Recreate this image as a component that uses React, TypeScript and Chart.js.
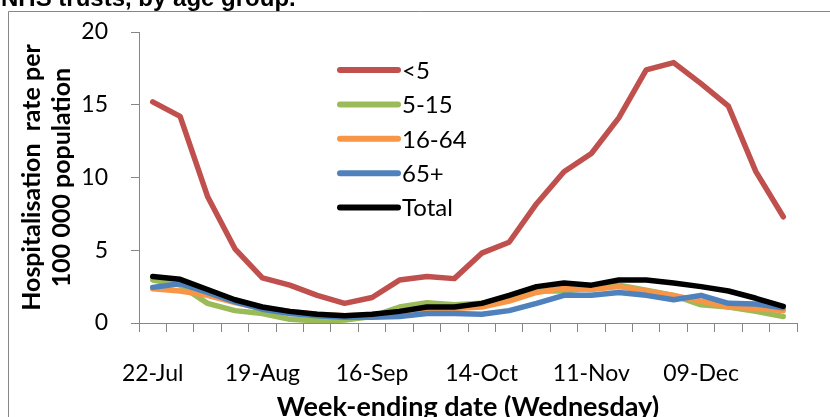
import React, { useEffect, useRef } from "react";
import { Chart, registerables } from "chart.js";

Chart.register(...registerables);

const weeks = [
  "22-Jul", "29-Jul", "05-Aug", "12-Aug", "19-Aug", "26-Aug", "02-Sep", "09-Sep",
  "16-Sep", "23-Sep", "30-Sep", "07-Oct", "14-Oct", "21-Oct", "28-Oct", "04-Nov",
  "11-Nov", "18-Nov", "25-Nov", "02-Dec", "09-Dec", "16-Dec", "23-Dec", "30-Dec",
];

const under5 = [15.2, 14.2, 8.7, 5.1, 3.1, 2.6, 1.9, 1.35, 1.75, 2.95, 3.2, 3.05, 4.8, 5.55, 8.2, 10.4, 11.65, 14.1, 17.4, 17.9, 16.45, 14.9, 10.4, 7.3];
const age5to15 = [2.95, 2.6, 1.35, 0.85, 0.65, 0.25, 0.15, 0.2, 0.45, 1.1, 1.4, 1.25, 1.35, 1.7, 2.2, 2.2, 2.4, 2.6, 2.25, 1.9, 1.25, 1.1, 0.8, 0.45];
const age16to64 = [2.35, 2.2, 1.9, 1.4, 1.0, 0.8, 0.6, 0.5, 0.55, 0.8, 1.0, 1.0, 1.1, 1.5, 2.1, 2.4, 2.3, 2.5, 2.2, 1.9, 1.5, 1.1, 1.0, 0.85];
const age65plus = [2.45, 2.7, 2.1, 1.45, 0.95, 0.65, 0.5, 0.4, 0.4, 0.45, 0.65, 0.65, 0.6, 0.85, 1.35, 1.9, 1.9, 2.1, 1.9, 1.6, 1.9, 1.35, 1.3, 1.05];
const total = [3.2, 3.0, 2.3, 1.6, 1.1, 0.8, 0.6, 0.5, 0.6, 0.8, 1.1, 1.1, 1.35, 1.9, 2.5, 2.75, 2.6, 2.95, 2.95, 2.75, 2.5, 2.2, 1.7, 1.15];

const seriesNames = ["<5", "5-15", "16-64", "65+", "Total"];
const seriesColors = ["#C0504D", "#9BBB59", "#F79646", "#4F81BD", "#000000"];
const seriesValues = [under5, age5to15, age16to64, age65plus, total];

const titleText = "NHS trusts, by age group.";
const yTitle = ["Hospitalisation  rate per", "100 000 population"];
const xTitle = "Week-ending date (Wednesday)";

const framePlugin = {
  id: "frame",
  beforeDraw(chart: any) {
    const ctx = chart.ctx;
    ctx.save();
    ctx.fillStyle = "#ffffff";
    ctx.fillRect(0, 0, chart.width, chart.height);
    ctx.fillStyle = "#000000";
    ctx.font = "bold 24px 'Liberation Sans', Arial, sans-serif";
    ctx.textBaseline = "alphabetic";
    ctx.textAlign = "left";
    ctx.fillText(titleText, 1, 6);
    ctx.strokeStyle = "#868686";
    ctx.lineWidth = 1;
    ctx.beginPath();
    ctx.moveTo(8.5, chart.height);
    ctx.lineTo(8.5, 11.5);
    ctx.lineTo(chart.width, 11.5);
    ctx.stroke();
    ctx.restore();
  },
};

const legendPlugin = {
  id: "insideLegend",
  afterDatasetsDraw(chart: any) {
    const ctx = chart.ctx;
    const area = chart.chartArea;
    ctx.save();
    ctx.font = "24px Lato, sans-serif";
    ctx.textBaseline = "middle";
    ctx.textAlign = "left";
    chart.data.datasets.forEach((ds: any, i: number) => {
      const y = area.top + 38 + i * 34.4;
      const x0 = area.left + 201;
      const x1 = area.left + 259;
      ctx.strokeStyle = ds.borderColor;
      ctx.lineWidth = 6;
      ctx.lineCap = "round";
      ctx.beginPath();
      ctx.moveTo(x0, y);
      ctx.lineTo(x1, y);
      ctx.stroke();
      ctx.fillStyle = "#000000";
      ctx.fillText(ds.label, x1 + 4, y + 1);
    });
    ctx.restore();
  },
};

export default function App() {
  const ref = useRef<HTMLCanvasElement>(null);
  useEffect(() => {
    const canvas = ref.current!;
    const chart = new Chart(canvas, {
      type: "line",
      data: {
        labels: weeks,
        datasets: seriesNames.map((name, i) => ({
          label: name,
          data: seriesValues[i],
          borderColor: seriesColors[i],
          backgroundColor: seriesColors[i],
          borderWidth: 5.5,
          pointRadius: 0,
          tension: 0,
          fill: false,
          borderJoinStyle: "round" as const,
          borderCapStyle: "round" as const,
          order: seriesNames.length - i,
        })),
      },
      options: {
        animation: false,
        responsive: false,
        devicePixelRatio: 1,
        layout: { padding: { left: 8, top: 32, right: 33, bottom: 0 } },
        plugins: {
          legend: { display: false },
          tooltip: { enabled: false },
          title: { display: false },
        },
        scales: {
          x: {
            type: "category",
            offset: true,
            grid: {
              offset: true,
              drawOnChartArea: false,
              drawTicks: true,
              tickLength: 9,
              color: "#868686",
              lineWidth: 1,
            },
            border: { display: true, color: "#868686", width: 1 },
            ticks: {
              autoSkip: false,
              maxRotation: 0,
              minRotation: 0,
              padding: 28,
              color: "#000000",
              font: { family: "Lato, sans-serif", size: 23 },
              callback: (_v: any, idx: number) => (idx % 4 === 0 ? weeks[idx] : ""),
            },
            title: {
              display: true,
              text: xTitle,
              color: "#000000",
              font: { family: "Lato, sans-serif", size: 27, weight: "bold" },
              padding: { top: 0, bottom: 17 },
            },
            afterFit: (scale: any) => {
              scale.height = 117;
              scale.paddingLeft = 0;
              scale.paddingRight = 0;
            },
          },
          y: {
            min: 0,
            max: 20,
            grid: {
              drawOnChartArea: false,
              drawTicks: true,
              tickLength: 8,
              color: "#868686",
              lineWidth: 1,
            },
            border: { display: true, color: "#868686", width: 1 },
            ticks: {
              stepSize: 5,
              padding: 23,
              color: "#000000",
              font: { family: "Lato, sans-serif", size: 23 },
            },
            title: {
              display: true,
              text: yTitle,
              color: "#000000",
              font: { family: "Lato, sans-serif", size: 25, weight: "bold" },
              padding: { top: 9, bottom: 0 },
            },
            afterFit: (scale: any) => {
              scale.width = 131;
              scale.paddingTop = 0;
              scale.paddingBottom = 0;
            },
          },
        },
      },
      plugins: [framePlugin, legendPlugin],
    });
    return () => chart.destroy();
  }, []);
  return (
    <div
      style={{
        position: "fixed",
        left: 0,
        top: 0,
        width: 830,
        height: 417,
        overflow: "hidden",
        background: "#ffffff",
      }}
    >
      <canvas ref={ref} width={830} height={440} style={{ display: "block" }} />
    </div>
  );
}
